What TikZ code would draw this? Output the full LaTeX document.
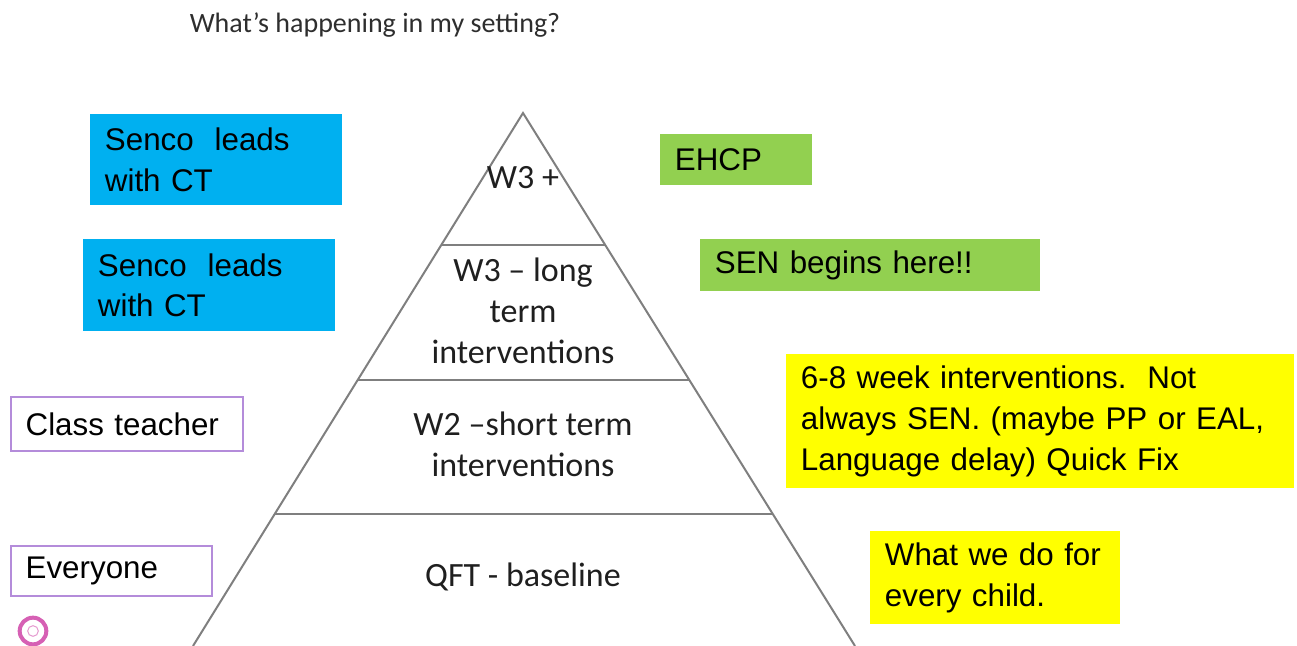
\documentclass[tikz,border=0pt]{standalone}
\usepackage{fontspec}
\setmainfont{Carlito}
\newfontfamily\arialfont{Liberation Sans}
\usetikzlibrary{calc}
\definecolor{boxblue}{HTML}{00B0F0}
\definecolor{boxgreen}{HTML}{92D050}
\definecolor{boxyellow}{HTML}{FFFF00}
\definecolor{boxlilac}{HTML}{B48CDA}
\definecolor{pyrline}{HTML}{7F7F7F}
\definecolor{ringpink}{HTML}{D660B4}
\begin{document}
\begin{tikzpicture}[x=0.75pt,y=-0.75pt,
  note/.style={anchor=north west, inner sep=0pt, inner xsep=11pt, align=left,
    font=\arialfont\fontsize{23.5}{30.5}\selectfont, text=black},
  bluenote/.style={note, fill=boxblue},
  greennote/.style={note, fill=boxgreen},
  yellownote/.style={note, fill=boxyellow},
  rolenote/.style={note, fill=white, draw=boxlilac, line width=1.5pt},
  layer/.style={align=center, font=\fontsize{25.5}{30.75}\selectfont, text=black!88},
  pyr/.style={draw=pyrline, line width=1.5pt}]
\useasboundingbox (0,0) rectangle (1297,646);

% heading
\node[font=\fontsize{21}{25}\selectfont, text=black!82] (title) at (375,25) {What’s happening in my setting?};

% pyramid outline and level dividers
\coordinate (apex) at (523,113);
\coordinate (bl) at (193,646);
\coordinate (br) at (855,646);
\draw[pyr, line join=miter] (bl) -- (apex) -- (br);
\draw[pyr] ($(apex)!0.2477!(bl)$) -- ($(apex)!0.2477!(br)$);
\draw[pyr] ($(apex)!0.501!(bl)$) -- ($(apex)!0.501!(br)$);
\draw[pyr] ($(apex)!0.752!(bl)$) -- ($(apex)!0.752!(br)$);

% pyramid level labels
\node[layer] (w3plus) at (523,178) {W3 +};
\node[layer] (w3long) at (523,311) {W3 – long\\term\\interventions};
\node[layer] (w2short) at (523,444) {W2 –short term\\interventions};
\node[layer] (qft) at (523,577) {QFT - baseline};

% who leads each level
\node[bluenote, text width=167pt, minimum height=68.25pt] (lead1) at (90,114) {Senco\ \ leads\\with CT};
\node[bluenote, text width=167pt, minimum height=69pt] (lead2) at (83,239) {Senco\ \ leads\\with CT};
\node[rolenote, text width=152pt, minimum height=40.5pt] (ct) at (10,396) {Class teacher};
\node[rolenote, text width=129pt, minimum height=37.5pt] (all) at (10,545) {Everyone};

% what each level means
\node[greennote, text width=92pt, minimum height=38.25pt] (ehcp) at (660,134) {EHCP};
\node[greennote, text width=233pt, minimum height=39pt] (sen) at (700,239) {SEN begins here!!};
\node[yellownote, text width=359pt, minimum height=100.5pt] (short) at (786,354)
  {6-8 week interventions.\ \ Not\\always SEN. (maybe PP or EAL,\\Language delay) Quick Fix};
\node[yellownote, text width=165pt, minimum height=69.75pt] (every) at (870,531) {What we do for\\every child.};

% small ring marker
\node[circle, draw=ringpink, line width=3pt, minimum size=20pt, inner sep=0pt] (ring) at (33,631) {};
\node[circle, draw=ringpink!60, line width=0.8pt, minimum size=8pt, inner sep=0pt] (ringin) at (ring) {};
\end{tikzpicture}
\end{document}
